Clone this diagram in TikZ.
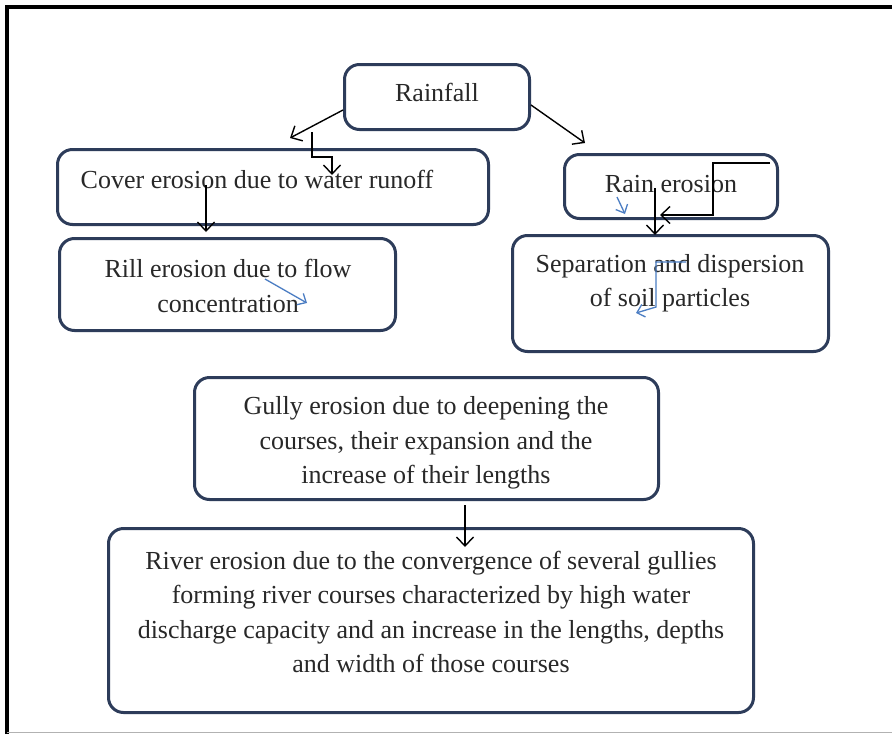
\documentclass[tikz,border=0pt]{standalone}
\usepackage{fontspec}
\setmainfont{Liberation Serif}
\usetikzlibrary{arrows.meta}
\definecolor{boxnavy}{RGB}{45,60,90}
\definecolor{txtgrey}{RGB}{40,40,40}
\definecolor{penblue}{RGB}{75,125,195}
\begin{document}
\begin{tikzpicture}[x=1pt,y=-1pt,
  ebox/.style={draw=boxnavy,line width=3pt,rounded corners=15pt,fill=white,inner sep=0pt},
  etext/.style={text=txtgrey,align=center,font=\fontsize{26}{34.5}\selectfont,inner sep=0pt},
  arr/.style={draw=black,line width=1.4pt,-{Straight Barb[length=9pt,width=17pt,line width=1.4pt]}},
  barr/.style={draw=penblue,line width=1.3pt,-{Straight Barb[length=7pt,width=13pt,line width=1.3pt]}}]
\useasboundingbox (0,0) rectangle (892,734);
\fill[white] (0,0) rectangle (892,734);
% frame
\draw[black,line width=4pt] (7,734) -- (7,7) -- (892,7);
\draw[gray!60,line width=1pt] (7,732) -- (892,732);

% boxes
\node[ebox,minimum width=185pt,minimum height=65pt] (rain) at (437,97) {};
\node[ebox,minimum width=431pt,minimum height=75pt] (cover) at (273,187) {};
\node[ebox,minimum width=336pt,minimum height=92pt] (rill) at (227.5,284.5) {};
\node[ebox,minimum width=213pt,minimum height=64pt] (rainero) at (671,186.5) {};
\node[ebox,minimum width=316pt,minimum height=116pt] (sep) at (670.5,293.5) {};
\node[ebox,minimum width=464pt,minimum height=122pt] (gully) at (426.5,438.5) {};
\node[ebox,minimum width=645pt,minimum height=184pt] (river) at (431,620.5) {};

% texts
\node[etext] (rainT) at (437,92) {Rainfall};
\node[etext] (coverT) at (257,179) {Cover erosion due to water runoff};
\node[etext] (rillT) at (228,286) {Rill erosion due to flow\\concentration};
\node[etext] (raineroT) at (671,184) {Rain erosion};
\node[etext] (sepT) at (670,283) {Separation and dispersion\\of soil particles};
\node[etext] (gullyT) at (426,443) {Gully erosion due to deepening the\\courses, their expansion and the\\increase of their lengths};
\node[etext] (riverT) at (431,612) {River erosion due to the convergence of several gullies\\forming river courses characterized by high water\\discharge capacity and an increase in the lengths, depths\\and width of those courses};

% black connectors
\coordinate (a1s) at (343,110);
\coordinate (a1e) at (290,138);
\draw[arr] (a1s) -- (a1e);
\coordinate (zs) at (312,132);
\coordinate (ze) at (332,175);
\draw[arr] (zs) -- (312,157) -- (332,157) -- (ze);
\coordinate (a3s) at (531,105);
\coordinate (a3e) at (585,143);
\draw[arr] (a3s) -- (a3e);
\coordinate (a4s) at (206,185);
\coordinate (a4e) at (206,232);
\draw[arr] (a4s) -- (a4e);
\coordinate (z2s) at (770,163);
\coordinate (z2e) at (660,215);
\draw[arr] (z2s) -- (713,163) -- (713,215) -- (z2e);
\coordinate (a6s) at (655,188);
\coordinate (a6e) at (655,235);
\draw[arr] (a6s) -- (a6e);
\coordinate (a7s) at (465,505);
\coordinate (a7e) at (465,547);
\draw[arr] (a7s) -- (a7e);

% blue pen strokes
\coordinate (b1s) at (617,197);
\coordinate (b1e) at (625,214);
\draw[barr] (b1s) -- (b1e);
\coordinate (b2s) at (265,279);
\coordinate (b2e) at (307,303);
\draw[barr] (b2s) -- (b2e);
\coordinate (b3a) at (686,262);
\coordinate (b3e) at (636,313);
\draw[barr] (b3a) -- (656,262) -- (656,307) -- (b3e);
\end{tikzpicture}
\end{document}
